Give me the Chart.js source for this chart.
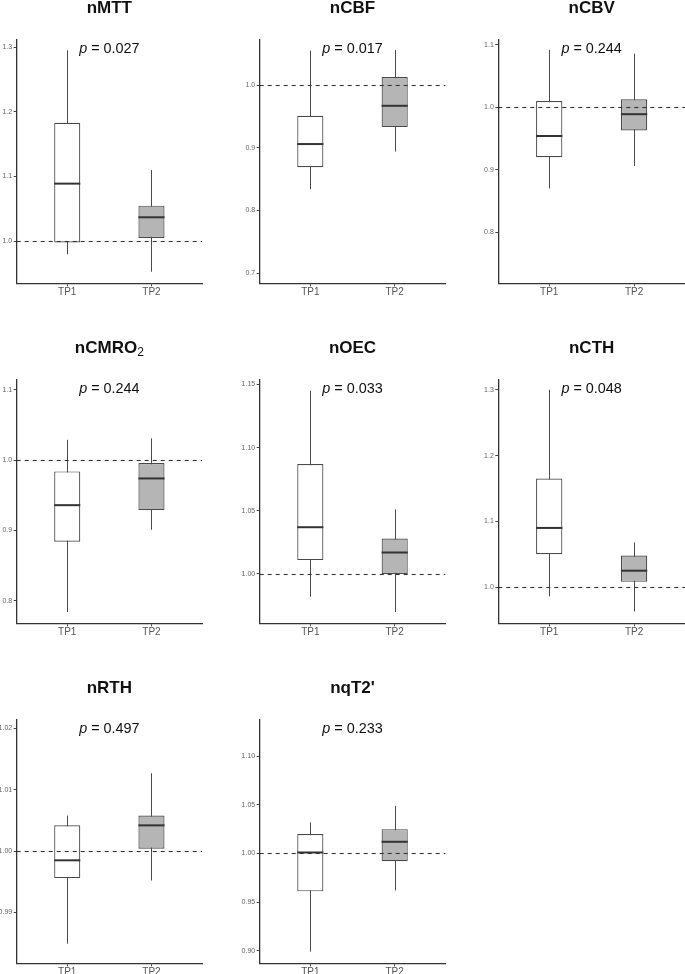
<!DOCTYPE html>
<html>
<head>
<meta charset="utf-8">
<script src="https://cdn.jsdelivr.net/npm/chart.js@4"></script>
<style>
  html, body { margin: 0; padding: 0; background: #fff; }
  body { width: 685px; height: 974px; position: relative; overflow: hidden; }
  .panel { position: absolute; }
</style>
</head>
<body>
<script>
// ------------------------------------------------------------
// DATA
// ------------------------------------------------------------
const groups = ['TP1', 'TP2'];
const panelTitles = ['nMTT', 'nCBF', 'nCBV', 'nCMRO', 'nOEC', 'nCTH', 'nRTH', "nqT2'"];
const titleSubscripts = ['', '', '', '2', '', '', '', ''];
const pValues = ['0.027', '0.017', '0.244', '0.244', '0.033', '0.048', '0.497', '0.233'];

// box statistics, one [TP1, TP2] pair per panel
const whiskerLow  = [[0.980, 0.953], [0.834, 0.894], [0.870, 0.906], [0.784, 0.901],
                     [0.982, 0.970], [0.986, 0.963], [0.9849, 0.9952], [0.899, 0.962]];
const quartile1   = [[0.998, 1.005], [0.869, 0.933], [0.920, 0.963], [0.884, 0.929],
                     [1.011, 1.000], [1.050, 1.008], [0.9956, 1.0004], [0.961, 0.992]];
const medians     = [[1.089, 1.037], [0.906, 0.967], [0.954, 0.989], [0.936, 0.974],
                     [1.037, 1.017], [1.090, 1.025], [0.9985, 1.0042], [1.001, 1.012]];
const quartile3   = [[1.183, 1.055], [0.951, 1.013], [1.010, 1.013], [0.984, 0.996],
                     [1.087, 1.028], [1.165, 1.048], [1.0042, 1.0058], [1.020, 1.025]];
const whiskerHigh = [[1.295, 1.110], [1.055, 1.056], [1.092, 1.086], [1.029, 1.031],
                     [1.145, 1.051], [1.300, 1.068], [1.0058, 1.0127], [1.032, 1.049]];

const refLine = 1.0;

// y axis ranges and tick labels per panel
const yMin = [0.935, 0.684, 0.718, 0.768, 0.961, 0.945, 0.9817, 0.887];
const yMax = [1.312, 1.073, 1.109, 1.115, 1.154, 1.316, 1.0215, 1.138];
const yTickLabels = [
  ['1.0', '1.1', '1.2', '1.3'],
  ['0.7', '0.8', '0.9', '1.0'],
  ['0.8', '0.9', '1.0', '1.1'],
  ['0.8', '0.9', '1.0', '1.1'],
  ['1.00', '1.05', '1.10', '1.15'],
  ['1.0', '1.1', '1.2', '1.3'],
  ['0.99', '1.00', '1.01', '1.02'],
  ['0.90', '0.95', '1.00', '1.05', '1.10']
];

// ------------------------------------------------------------
// LAYOUT
// ------------------------------------------------------------
const colLeft = [0, 228, 456];
const colWidth = [228, 228, 229];
const colAxisWidth = [16.7, 31.7, 42.3];
const colPadRight = [26, 10.7, 0];
const rowTop = [0, 340, 680];
const canvasHeight = 310;
const padTop = 39.3;
const plotHeight = 244;
const xAxisHeight = 20;

Chart.defaults.font.family = '"Liberation Sans", Arial, sans-serif';

// whiskers, medians, reference line, titles and p values
const boxPlotExtras = {
  id: 'boxPlotExtras',
  beforeDatasetsDraw(chart, args, opts) {
    const i = opts.panel;
    const { ctx, scales: { x, y } } = chart;
    ctx.save();
    ctx.strokeStyle = '#4a4a4a';
    ctx.lineWidth = 1;
    groups.forEach((g, k) => {
      const px = Math.round(x.getPixelForValue(k + 1)) + 0.5;
      ctx.beginPath();
      ctx.moveTo(px, y.getPixelForValue(whiskerLow[i][k]));
      ctx.lineTo(px, y.getPixelForValue(whiskerHigh[i][k]));
      ctx.stroke();
    });
    ctx.restore();
  },
  afterDatasetsDraw(chart, args, opts) {
    const i = opts.panel;
    const { ctx, chartArea, scales: { y } } = chart;
    const bars = chart.getDatasetMeta(0).data;
    ctx.save();
    ctx.strokeStyle = '#333';
    ctx.lineWidth = 2;
    bars.forEach((bar, k) => {
      const py = y.getPixelForValue(medians[i][k]);
      ctx.beginPath();
      ctx.moveTo(bar.x - bar.width / 2, py);
      ctx.lineTo(bar.x + bar.width / 2, py);
      ctx.stroke();
    });
    // dashed line at 1
    const ry = Math.round(y.getPixelForValue(refLine)) + 0.5;
    ctx.lineWidth = 1.1;
    ctx.setLineDash([4, 4]);
    ctx.beginPath();
    ctx.moveTo(chartArea.left, ry);
    ctx.lineTo(chartArea.right, ry);
    ctx.stroke();
    ctx.restore();
  },
  afterDraw(chart, args, opts) {
    const i = opts.panel;
    const { ctx, chartArea } = chart;
    const cx = (chartArea.left + chartArea.right) / 2;
    ctx.save();
    ctx.fillStyle = '#111';
    ctx.textBaseline = 'alphabetic';
    ctx.textAlign = 'left';

    // panel title
    const mainFont = 'bold 17px "Liberation Sans", Arial';
    const subFont = '12px "Liberation Sans", Arial';
    ctx.font = mainFont;
    const wMain = ctx.measureText(panelTitles[i]).width;
    ctx.font = subFont;
    const wSub = titleSubscripts[i] ? ctx.measureText(titleSubscripts[i]).width : 0;
    const tx = cx - (wMain + wSub) / 2;
    const ty = chartArea.top - 26.5;
    ctx.font = mainFont;
    ctx.fillText(panelTitles[i], tx, ty);
    if (titleSubscripts[i]) {
      ctx.font = subFont;
      ctx.fillText(titleSubscripts[i], tx + wMain, ty + 3.5);
    }

    // p value
    const pFont = 'italic 14.4px "Liberation Sans", Arial';
    const rFont = '14.4px "Liberation Sans", Arial';
    const rest = ' = ' + pValues[i];
    ctx.font = pFont;
    const wp = ctx.measureText('p').width;
    ctx.font = rFont;
    const wr = ctx.measureText(rest).width;
    const px = cx - (wp + wr) / 2;
    const py = chartArea.top + 14;
    ctx.font = pFont;
    ctx.fillText('p', px, py);
    ctx.font = rFont;
    ctx.fillText(rest, px + wp, py);
    ctx.restore();
  }
};

panelTitles.forEach((title, i) => {
  const col = i % 3;
  const row = Math.floor(i / 3);

  const holder = document.createElement('div');
  holder.className = 'panel';
  holder.style.left = colLeft[col] + 'px';
  holder.style.top = rowTop[row] + 'px';
  const canvas = document.createElement('canvas');
  canvas.width = colWidth[col];
  canvas.height = canvasHeight;
  holder.appendChild(canvas);
  document.body.appendChild(holder);

  new Chart(canvas, {
    type: 'bar',
    data: {
      datasets: [{
        data: groups.map((g, k) => ({ x: k + 1, y: [quartile1[i][k], quartile3[i][k]] })),
        backgroundColor: ['#ffffff', '#b5b5b5'],
        borderColor: '#4a4a4a',
        borderWidth: 1.2,
        borderSkipped: false,
        barPercentage: 0.31,
        categoryPercentage: 1
      }]
    },
    options: {
      responsive: false,
      animation: false,
      devicePixelRatio: 1,
      layout: {
        padding: {
          left: 0,
          right: colPadRight[col],
          top: padTop,
          bottom: canvasHeight - padTop - plotHeight - xAxisHeight
        }
      },
      plugins: {
        legend: { display: false },
        tooltip: { enabled: false },
        title: { display: false },
        boxPlotExtras: { panel: i }
      },
      scales: {
        x: {
          type: 'linear',
          min: 0.4,
          max: 2.6,
          offset: false,
          afterBuildTicks: s => { s.ticks = groups.map((g, k) => ({ value: k + 1 })); },
          afterFit: s => { s.height = xAxisHeight; },
          ticks: {
            callback: v => groups[v - 1],
            color: '#555',
            font: { size: 10 },
            padding: 0,
            maxRotation: 0,
            autoSkip: false
          },
          grid: { offset: false, drawOnChartArea: false, tickLength: 3, color: '#444' },
          border: { color: '#333', width: 1.3 }
        },
        y: {
          min: yMin[i],
          max: yMax[i],
          afterBuildTicks: s => { s.ticks = yTickLabels[i].map(t => ({ value: parseFloat(t) })); },
          afterFit: s => { s.width = colAxisWidth[col]; },
          ticks: {
            callback: (v, idx) => yTickLabels[i][idx],
            color: '#666',
            font: { size: 7 },
            padding: 1.5,
            autoSkip: false
          },
          grid: { drawOnChartArea: false, tickLength: 3, color: '#444' },
          border: { color: '#333', width: 1.3 }
        }
      }
    },
    plugins: [boxPlotExtras]
  });
});
</script>
</body>
</html>
